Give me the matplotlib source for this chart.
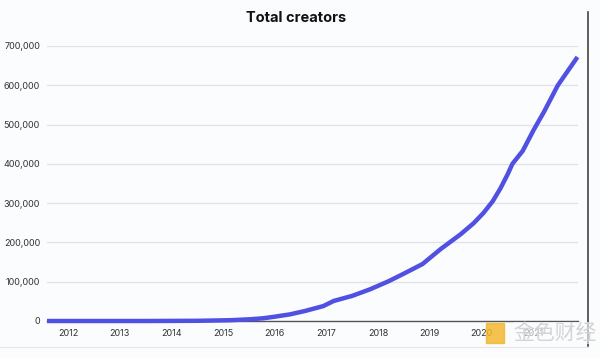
import matplotlib.pyplot as plt
from matplotlib.ticker import FuncFormatter

# 数据
years = [2011.59, 2012.5, 2013.5, 2014.5, 2015.14, 2015.53, 2015.78, 2016.0, 2016.30,
         2016.6, 2016.94, 2017.14, 2017.5, 2017.85, 2018.2, 2018.49, 2018.86,
         2019.21, 2019.60, 2019.85, 2020.04, 2020.22, 2020.37, 2020.51, 2020.60,
         2020.80, 2021.01, 2021.21, 2021.48, 2021.86]
creators = [0, 0, 0, 500, 2000, 4500, 7000, 11000, 17000,
            26000, 38000, 51000, 64000, 81000, 101000, 120000, 145000,
            183000, 221000, 249000, 275000, 305000, 338000, 374000, 400000,
            433000, 486000, 532000, 600000, 672000]
tick_years = [2012, 2013, 2014, 2015, 2016, 2017, 2018, 2019, 2020, 2021]
y_ticks = [0, 100000, 200000, 300000, 400000, 500000, 600000, 700000]

plt.rcParams['font.family'] = ['Inter', 'Noto Sans CJK SC', 'DejaVu Sans']

bg = '#fbfcfe'
fig = plt.figure(figsize=(6, 3.58), dpi=100, facecolor=bg)
ax = fig.add_axes([47 / 600, 1 - 321 / 358, (578 - 47) / 600, (321 - 46) / 358])
ax.set_facecolor(bg)

ax.plot(years, creators, color='#5050e2', linewidth=3.2, solid_capstyle='butt',
        solid_joinstyle='round', clip_on=False, zorder=3)

ax.set_xlim(2011.59, 2021.87)
ax.set_ylim(0, 700000)
ax.set_yticks(y_ticks)
ax.yaxis.set_major_formatter(FuncFormatter(lambda v, p: f'{int(v):,}'))
ax.set_xticks(tick_years)
ax.set_xticklabels([str(y) for y in tick_years])

ax.grid(axis='y', color='#e1e2e8', linewidth=0.9)
ax.set_axisbelow(True)
for s in ['top', 'right', 'left']:
    ax.spines[s].set_visible(False)
ax.spines['bottom'].set_color('#555555')
ax.spines['bottom'].set_linewidth(1.0)
ax.tick_params(axis='both', length=0, labelsize=6.5, colors='#333333')
ax.tick_params(axis='x', pad=6)
ax.tick_params(axis='y', pad=5)

fig.text(296 / 600, 1 - 18 / 358, 'Total creators', ha='center', va='center',
         fontsize=10.5, fontweight='bold', color='#111111')

# 右侧边框与底部细线（截图痕迹）
fig.add_artist(plt.Line2D([588 / 600, 588 / 600], [1 - 12 / 358, 1 - 346 / 358],
                          color='#444444', linewidth=1.2))
fig.add_artist(plt.Line2D([0, 588 / 600], [1 - 347 / 358, 1 - 347 / 358],
                          color='#e6e6ea', linewidth=0.8))

# 水印（盖在 2021 标签上，如原图）
fig.add_artist(plt.Rectangle((486 / 600, 1 - 343 / 358), 18 / 600, 20 / 358,
                             color='#f2b830', alpha=0.85, zorder=5))
fig.text(513 / 600, 1 - 333 / 358, '金色财经', ha='left', va='center', zorder=6,
         fontsize=15, color='#d4d4d4', family=['Noto Sans CJK SC', 'DejaVu Sans'],
         bbox=dict(facecolor=bg, edgecolor='none', alpha=0.6, pad=0))

plt.savefig('out.png', dpi=100, facecolor=bg)
